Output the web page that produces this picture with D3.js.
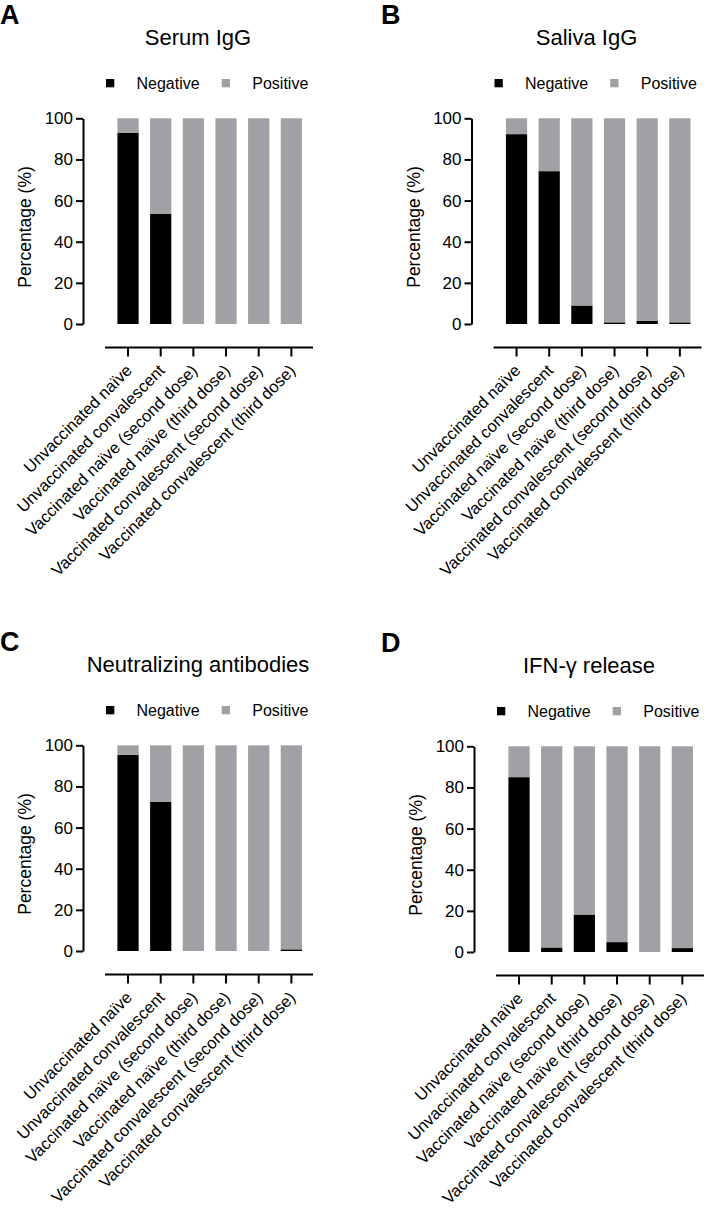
<!DOCTYPE html>
<html>
<head>
<meta charset="utf-8">
<script src="https://cdn.jsdelivr.net/npm/d3@7"></script>
<style>
  html, body { margin: 0; padding: 0; background: #fff; }
  svg { display: block; font-family: "Liberation Sans", Arial, sans-serif; }
</style>
</head>
<body>
<svg id="chart" width="709" height="1222"></svg>
<script>
const categories = [
  "Unvaccinated naïve",
  "Unvaccinated convalescent",
  "Vaccinated naïve (second dose)",
  "Vaccinated naïve (third dose)",
  "Vaccinated convalescent (second dose)",
  "Vaccinated convalescent (third dose)"
];
const seriesNames = ["Negative", "Positive"];
const yTicks = [0, 20, 40, 60, 80, 100];

const serumNegative = [93, 53.5, 0, 0, 0, 0];
const serumPositive = [7, 46.5, 100, 100, 100, 100];
const salivaNegative = [92.3, 74.3, 9, 0.8, 1.6, 0.8];
const salivaPositive = [7.7, 25.7, 91, 99.2, 98.4, 99.2];
const neutNegative = [95.3, 72.6, 0, 0, 0, 0.8];
const neutPositive = [4.7, 27.4, 100, 100, 100, 99.2];
const ifnNegative = [85, 2.2, 18.2, 4.8, 0, 1.9];
const ifnPositive = [15, 97.8, 81.8, 95.2, 100, 98.1];

const panels = [
  { letter: "A", title: "Serum IgG", neg: serumNegative, pos: serumPositive, dx: 0, dy: 0, lx: 0 },
  { letter: "B", title: "Saliva IgG", neg: salivaNegative, pos: salivaPositive, dx: 388.5, dy: 0, lx: 381 },
  { letter: "C", title: "Neutralizing antibodies", neg: neutNegative, pos: neutPositive, dx: 0, dy: 627, lx: 0 },
  { letter: "D", title: "IFN-γ release", neg: ifnNegative, pos: ifnPositive, dx: 391, dy: 628, lx: 381 }
];

const colors = { Negative: "#000000", Positive: "#a1a1a5" };
const svg = d3.select("#chart");

panels.forEach(p => {
  const g = svg.append("g").attr("transform", `translate(${p.dx},${p.dy})`);

  svg.append("text")
    .attr("x", p.lx).attr("y", p.dy + 24)
    .attr("font-size", 27).attr("font-weight", "bold")
    .text(p.letter);

  const axisX = 83;
  const y = d3.scaleLinear().domain([0, 100]).range([324, 118.3]);
  const x = d3.scaleBand().domain(categories).range([111.7, 307.7])
    .paddingInner(0.35).paddingOuter(0.175);

  g.append("text").attr("x", 198).attr("y", 45)
    .attr("text-anchor", "middle").attr("font-size", 22)
    .text(p.title);

  const leg = g.append("g");
  const legItems = [{ name: seriesNames[0], sx: 106, tx: 136.5 }, { name: seriesNames[1], sx: 221.7, tx: 252.3 }];
  legItems.forEach(it => {
    leg.append("rect").attr("x", it.sx).attr("y", 79).attr("width", 8.3).attr("height", 8.3)
      .attr("fill", colors[it.name]);
    leg.append("text").attr("x", it.tx).attr("y", 88.5).attr("font-size", 16).text(it.name);
  });

  const rows = categories.map((c, i) => ({ cat: c, Negative: p.neg[i], Positive: p.pos[i] }));
  const stack = d3.stack().keys(seriesNames)(rows);
  g.append("g").selectAll("g").data(stack).join("g")
    .attr("fill", d => colors[d.key])
    .selectAll("rect").data(d => d).join("rect")
    .attr("x", d => x(d.data.cat))
    .attr("width", x.bandwidth())
    .attr("y", d => y(d[1]))
    .attr("height", d => Math.max(0, y(d[0]) - y(d[1])));

  const yAxis = d3.axisLeft(y).tickValues(yTicks).tickSize(7).tickPadding(3).tickSizeOuter(0);
  const ya = g.append("g").attr("transform", `translate(${axisX},0)`).call(yAxis);
  ya.select(".domain").attr("stroke", "#000").attr("stroke-width", 2);
  ya.selectAll(".tick line").attr("stroke", "#000").attr("stroke-width", 2);
  ya.selectAll(".tick text").attr("font-size", 17).attr("font-family", "Liberation Sans, Arial, sans-serif").attr("fill", "#000");

  g.append("text")
    .attr("transform", `translate(31,227) rotate(-90)`)
    .attr("text-anchor", "middle").attr("font-size", 17.5)
    .text("Percentage (%)");

  const xAxisY = 347.5;
  const xa = g.append("g").attr("transform", `translate(0,${xAxisY})`)
    .call(d3.axisBottom(x).tickSize(9).tickSizeOuter(0).tickFormat(""));
  xa.select(".domain").attr("d", `M105,0H313`).attr("stroke", "#000").attr("stroke-width", 2);
  xa.selectAll(".tick line").attr("stroke", "#000").attr("stroke-width", 2);

  g.append("g").selectAll("text").data(categories).join("text")
    .attr("transform", d => `translate(${x(d) + x.bandwidth() / 2 + 5},${xAxisY + 24}) rotate(-45)`)
    .attr("text-anchor", "end").attr("font-size", 16.5)
    .text(d => d);
});
</script>
</body>
</html>
